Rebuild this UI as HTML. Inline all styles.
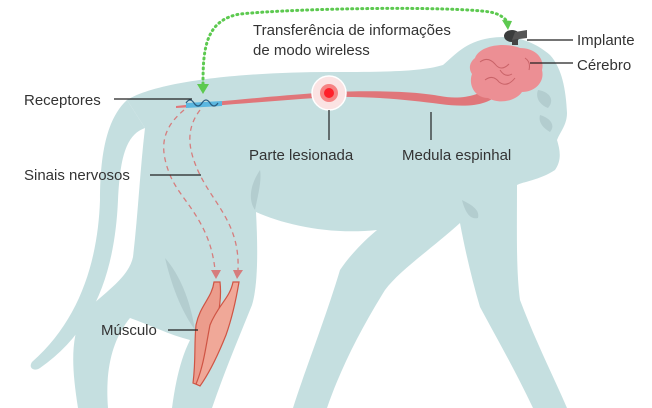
<!DOCTYPE html>
<html><head><meta charset="utf-8"><style>
body{margin:0;background:#fff;width:652px;height:408px;overflow:hidden}
svg{display:block}
text{font-family:"Liberation Sans",sans-serif;font-size:15px;fill:#333}
</style></head><body>
<svg width="652" height="408" viewBox="0 0 652 408">
<path d="M127,100 C105,120 100,160 100,200 C98,260 80,320 32,362 C28,368 34,372 40,368 C95,330 115,270 118,200 C120,160 125,135 145,128 Z" fill="#c5dfe0"/>
<path d="M127,100 C160,80 250,72 330,72 C380,72 420,72 443,65 C455,55 465,42 490,38 C515,34 535,42 550,55 C562,68 566,90 567,113 C567,125 560,132 557,140 C560,150 562,160 555,170 C540,180 522,182 517,185 C517,230 516,270 520,300 C535,340 555,380 567,408 L533,408 C515,370 495,335 480,307 C472,280 465,250 460,223 C430,250 400,270 385,290 C360,330 340,370 327,408 L293,408 C305,370 325,320 340,270 C350,255 365,240 377,230 C330,235 285,225 256,212 C258,250 258,285 252,305 C240,335 225,370 212,408 L172,408 C175,385 180,360 190,340 C170,335 150,325 130,318 C112,340 105,370 108,408 L78,408 C72,370 70,340 82,315 C100,295 128,280 133,257 C138,215 140,170 145,128 Z" fill="#c5dfe0"/>
<path d="M165,258 C180,275 190,300 195,330 C188,320 175,300 165,258 Z" fill="#b3cdcf"/>
<path d="M260,170 C250,185 248,200 255,210 C258,195 262,180 260,170 Z" fill="#b3cdcf"/>
<path d="M462,200 C472,205 480,210 478,218 C470,220 465,212 462,200 Z" fill="#b3cdcf"/>
<path d="M538,90 C550,92 555,100 548,108 C540,105 535,98 538,90 Z M540,115 C550,118 556,125 550,132 C543,128 538,122 540,115 Z" fill="#b3cdcf"/>
<path d="M176,106 C230,100 300,94 330,92 C380,90 420,92 440,96 C460,100 480,96 492,85 L500,92 C490,105 470,108 440,104 C410,100 370,96 330,97 C280,100 220,106 176,108 Z" fill="#e0767a"/>
<path d="M186,103 L222,101 L222,106 L186,108 Z" fill="#5bb7e0"/>
<path d="M186,103 q4,-6 8,0 q4,6 8,0 q4,-6 8,0 q4,6 8,0" fill="none" stroke="#2a5d80" stroke-width="1.2"/>
<circle cx="329" cy="93" r="17" fill="#fbe3e3" stroke="#fff" stroke-width="1.5"/>
<circle cx="329" cy="93" r="9" fill="#f35a5a" opacity="0.7"/>
<circle cx="329" cy="93" r="5" fill="#ff1f2a"/>
<path d="M475,58 C480,45 505,42 520,48 C535,48 545,58 542,70 C545,82 535,92 522,92 C515,102 498,104 488,98 C475,98 468,85 472,74 C468,68 470,62 475,58 Z" fill="#ec8f94"/>
<path d="M480,62 q8,-6 15,2 q6,8 14,0 M485,80 q8,-6 14,2 q8,6 16,-4 M500,70 q5,8 12,4 M525,58 q6,4 4,12" stroke="#c96368" fill="none" stroke-width="1"/>
<ellipse cx="512" cy="36" rx="8" ry="6" fill="#3a3c3c"/>
<path d="M515,32 L527,30 L527,38 L512,40 Z" fill="#555"/>
<rect x="512" y="40" width="6" height="5" fill="#444"/>
<path d="M203,84 C203,50 205,20 240,14 C300,8 450,6 490,12 C500,14 505,18 509,24" fill="none" stroke="#5cc94f" stroke-width="3" stroke-dasharray="1 4" stroke-linecap="round"/>
<path d="M197,84 L209,84 L203,94 Z" fill="#5cc94f"/>
<path d="M502,20 L512,21 L508,30 Z" fill="#5cc94f"/>
<path d="M184,110 C160,130 160,150 170,175 C180,200 210,220 215,270" fill="none" stroke="#d67d7d" stroke-width="1.3" stroke-dasharray="5 4"/>
<path d="M200,110 C185,130 188,150 200,175 C215,205 240,225 238,270" fill="none" stroke="#d67d7d" stroke-width="1.3" stroke-dasharray="5 4"/>
<path d="M211,270 L221,270 L216,279 Z M233,270 L243,270 L237,279 Z" fill="#d67d7d"/>
<path d="M214,282 L220,282 C222,300 218,315 215,330 C210,350 206,370 198,385 L193,383 C196,360 194,345 196,325 C200,305 212,298 214,282 Z" fill="#ec9c8c" stroke="#cf5444" stroke-width="1.2"/>
<path d="M233,282 L239,282 C236,300 232,318 226,335 C218,355 210,372 200,386 L196,384 C204,365 206,345 210,325 C218,305 230,298 233,282 Z" fill="#f0a898" stroke="#cf5444" stroke-width="1.2"/>
<g stroke="#222" stroke-width="1.2">
<line x1="114" y1="99" x2="192" y2="99"/>
<line x1="329" y1="110" x2="329" y2="140"/>
<line x1="431" y1="112" x2="431" y2="140"/>
<line x1="527" y1="40" x2="573" y2="40"/>
<line x1="530" y1="63" x2="573" y2="63"/>
<line x1="150" y1="175" x2="201" y2="175"/>
<line x1="168" y1="330" x2="198" y2="330"/>
</g>
<text x="253" y="35">Transferência de informações</text>
<text x="253" y="55">de modo wireless</text>
<text x="577" y="45">Implante</text>
<text x="577" y="70">Cérebro</text>
<text x="24" y="105">Receptores</text>
<text x="249" y="160">Parte lesionada</text>
<text x="402" y="160">Medula espinhal</text>
<text x="24" y="180">Sinais nervosos</text>
<text x="101" y="335">Músculo</text>
</svg>
</body></html>
